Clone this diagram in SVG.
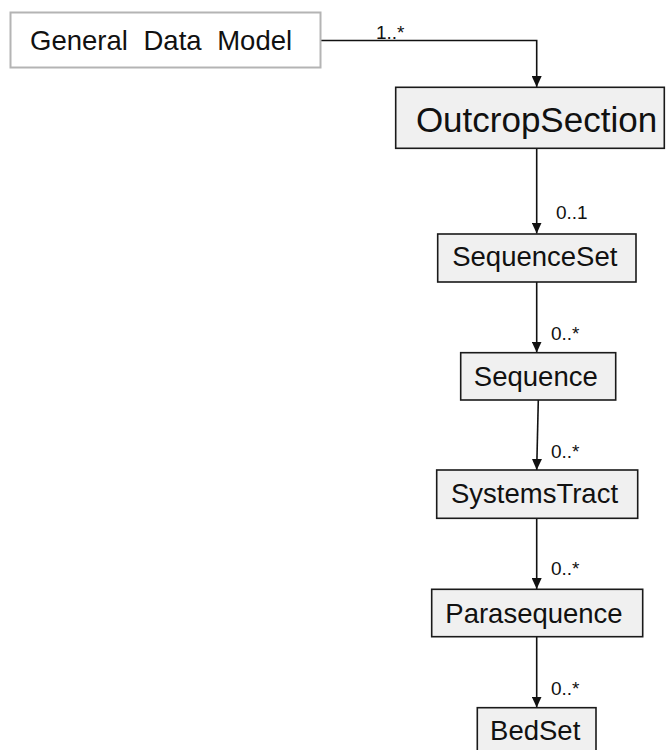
<svg xmlns="http://www.w3.org/2000/svg" width="667" height="750" viewBox="0 0 667 750">
  <style>
    .box { fill: #f0f0f0; stroke: #1a1a1a; stroke-width: 1.6; }
    .outer { fill: #ffffff; stroke: #b4b4b4; stroke-width: 2; }
    .name { font-family: "Liberation Sans", Arial, sans-serif; font-size: 27.5px; fill: #111; text-anchor: middle; }
    .title { font-family: "Liberation Sans", Arial, sans-serif; font-size: 35px; fill: #111; text-anchor: middle; }
    .mult { font-family: "Liberation Sans", Arial, sans-serif; font-size: 19px; fill: #111; }
    .link { fill: none; stroke: #111; stroke-width: 1.6; marker-end: url(#arrow); }
  </style>
  <defs>
    <marker id="arrow" viewBox="0 0 11 10" refX="11" refY="5" markerWidth="11" markerHeight="10" markerUnits="userSpaceOnUse" orient="auto">
      <path d="M0,0 L11,5 L0,10 Z" fill="#111"/>
    </marker>
  </defs>

  <rect width="667" height="750" fill="#ffffff"/>

  <!-- connectors -->
  <g id="connectors">
    <path class="link" d="M320.5,40.5 H536.7 V87"/>
    <path class="link" d="M536.7,148.5 V233.5"/>
    <path class="link" d="M536.7,282 V352.5"/>
    <path class="link" d="M538.3,400 L536.7,470"/>
    <path class="link" d="M536.7,518.5 V589"/>
    <path class="link" d="M536.7,637 V707.5"/>
    <text class="mult" x="376" y="39">1..*</text>
    <text class="mult" x="556" y="219">0..1</text>
    <text class="mult" x="551" y="340">0..*</text>
    <text class="mult" x="551" y="458">0..*</text>
    <text class="mult" x="551" y="575">0..*</text>
    <text class="mult" x="551" y="695">0..*</text>
  </g>

  <g id="general-data-model">
    <rect class="outer" x="10.5" y="12.5" width="310" height="55"/>
    <text x="30" y="50" font-family="'Liberation Sans', Arial, sans-serif" font-size="27.5" fill="#111" word-spacing="8">General Data Model</text>
  </g>

  <g id="outcrop-section">
    <rect class="box" x="395.7" y="87.3" width="268.6" height="61"/>
    <text class="title" x="536.5" y="131.7">OutcropSection</text>
  </g>

  <g id="sequence-set">
    <rect class="box" x="437.7" y="234" width="198.3" height="48"/>
    <text class="name" x="534.8" y="266">SequenceSet</text>
  </g>

  <g id="sequence">
    <rect class="box" x="460.7" y="352.7" width="155" height="47.3"/>
    <text class="name" x="535.8" y="385.7">Sequence</text>
  </g>

  <g id="systems-tract">
    <rect class="box" x="436.7" y="470" width="201" height="48.3"/>
    <text class="name" x="534.5" y="503.3">SystemsTract</text>
  </g>

  <g id="parasequence">
    <rect class="box" x="431.7" y="589.3" width="211" height="47.4"/>
    <text class="name" x="534" y="622.7">Parasequence</text>
  </g>

  <g id="bed-set">
    <rect class="box" x="477.3" y="707.7" width="118.7" height="50"/>
    <text class="name" x="535.2" y="740">BedSet</text>
  </g>
</svg>
